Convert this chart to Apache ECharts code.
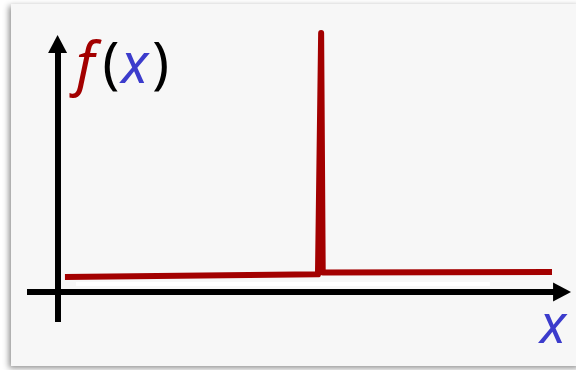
<!DOCTYPE html>
<html>
<head>
<meta charset="utf-8">
<script src="https://cdn.jsdelivr.net/npm/echarts@6/dist/echarts.min.js"></script>
<style>
  html, body { margin: 0; padding: 0; background: #ffffff; }
  #chart { width: 576px; height: 370px; }
</style>
</head>
<body>
<div id="chart"></div>
<script>
// Signal f(x): flat level with a single narrow spike
const xValues = [0.14, 4.94, 5.0, 5.03, 9.38];
const fValues = [0.58, 0.68, 10.0, 0.75, 0.77];

// Axis extents (data units) and labels
const xAxisRange = [-0.58, 9.57];
const yAxisRange = [-1.16, 9.575];
const functionLabel = ['f', '(', 'x', ')'];
const variableLabel = 'x';

// Faint light strip running just above the horizontal axis
const stripX = [0.35, 8.2];
const stripY = 0.31;

const RED = '#a30000';
const BLUE = '#3c3ccc';

const chart = echarts.init(document.getElementById('chart'), null, { renderer: 'canvas' });

chart.setOption({
  backgroundColor: '#ffffff',
  animation: false,
  grid: { left: 27, right: 5, top: 33, bottom: 48 },
  xAxis: { type: 'value', min: -0.58, max: 9.74, show: false },
  yAxis: { type: 'value', min: -1.16, max: 10, show: false },
  graphic: [
    {
      type: 'rect',
      z: -10,
      shape: { x: 11, y: 4, width: 570, height: 362 },
      style: {
        fill: '#f7f7f7',
        shadowBlur: 6,
        shadowColor: 'rgba(0,0,0,0.45)',
        shadowOffsetX: -2,
        shadowOffsetY: 2
      }
    },
    {
      type: 'text',
      left: 76,
      top: 38,
      z: 10,
      style: {
        text: '{f|' + functionLabel[0] + '}{p|' + functionLabel[1] + '}{x|' + functionLabel[2] + '}{p|' + functionLabel[3] + '}',
        rich: {
          f: { fontFamily: 'Noto Sans', fontStyle: 'italic', fontSize: 58, fill: RED, padding: [0, 8, 0, 0] },
          x: { fontFamily: 'Noto Sans', fontStyle: 'italic', fontSize: 56, fill: BLUE, padding: [0, 4, 0, 2] },
          p: { fontFamily: 'Noto Sans', fontSize: 56, fill: '#000000' }
        }
      }
    },
    {
      type: 'text',
      left: 540,
      top: 301,
      z: 10,
      style: {
        text: variableLabel,
        fontFamily: 'Noto Sans',
        fontStyle: 'italic',
        fontSize: 54,
        fill: BLUE
      }
    }
  ],
  series: [
    {
      name: 'axes',
      type: 'line',
      data: [],
      clip: false,
      silent: true,
      z: 3,
      markLine: {
        silent: true,
        symbol: ['none', 'triangle'],
        symbolSize: [19, 18],
        label: { show: false },
        emphasis: { disabled: true },
        lineStyle: { color: '#000000', width: 6, type: 'solid' },
        data: [
          [{ coord: [xAxisRange[0], 0] }, { coord: [xAxisRange[1], 0] }],
          [{ coord: [0, yAxisRange[0]] }, { coord: [0, yAxisRange[1]] }]
        ]
      }
    },
    {
      name: 'strip',
      type: 'line',
      data: [[stripX[0], stripY], [stripX[1], stripY]],
      showSymbol: false,
      silent: true,
      z: 2,
      lineStyle: { color: '#ffffff', width: 4 }
    },
    {
      name: 'f(x)',
      type: 'line',
      data: xValues.map((x, i) => [x, fValues[i]]),
      showSymbol: false,
      silent: true,
      clip: false,
      z: 4,
      lineStyle: { color: RED, width: 6, join: 'round', cap: 'butt' }
    }
  ]
});
</script>
</body>
</html>
